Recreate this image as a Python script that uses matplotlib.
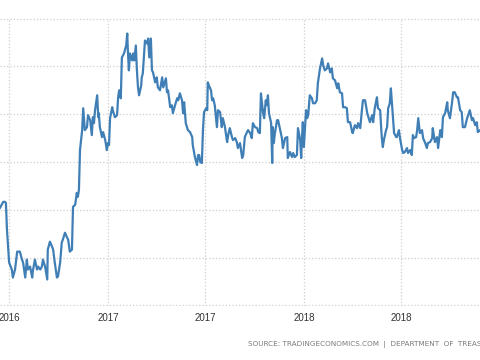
import numpy as np
import matplotlib
matplotlib.use('Agg')
import matplotlib.pyplot as plt
import matplotlib.dates as mdates
from matplotlib.ticker import MultipleLocator

START = np.datetime64('2016-06-14')
END = np.datetime64('2018-11-25')

# days since START
days = [0, 6, 9, 11, 13, 17, 22, 24, 28, 32, 37, 41, 43, 47, 50, 52, 56, 60, 61, 65,
        69, 71, 75, 78, 80, 84, 88, 89, 93, 97, 99, 102, 106, 108, 112, 115, 117, 121, 125, 127,
        130, 134, 136, 140, 143, 145, 147, 149, 153, 155, 158, 162, 164, 168, 171, 173, 175, 177, 181, 183,
        184, 186, 190, 192, 196, 199, 201, 203, 205, 209, 210, 214, 218, 220, 222, 225, 227, 229, 231, 235,
        237, 238, 240, 242, 246, 248, 250, 253, 255, 257, 259, 263, 264, 266, 270, 274, 276, 278, 281, 283,
        285, 289, 292, 294, 298, 302, 304, 309, 311, 313, 317, 320, 322, 326, 330, 332, 335, 339, 341, 343,
        346, 350, 354, 358, 359, 363, 367, 369, 371, 373, 376, 378, 380, 384, 386, 387, 389, 393, 395, 397,
        400, 404, 406, 410, 413, 415, 419, 423, 425, 428, 432, 434, 438, 441, 443, 447, 451, 453, 456, 460,
        462, 466, 469, 471, 475, 479, 481, 484, 486, 490, 492, 495, 497, 499, 501, 505, 507, 508, 510, 512,
        516, 518, 522, 525, 527, 531, 535, 536, 540, 544, 546, 549, 553, 555, 559, 561, 562, 564, 566, 570,
        572, 574, 577, 581, 583, 587, 590, 592, 596, 600, 602, 605, 609, 611, 615, 618, 620, 624, 628, 630,
        633, 637, 639, 643, 646, 648, 652, 656, 657, 661, 665, 667, 671, 674, 676, 680, 684, 685, 689, 693,
        695, 698, 702, 704, 708, 711, 713, 715, 719, 721, 723, 726, 728, 732, 734, 738, 739, 743, 745, 749,
        751, 754, 758, 760, 764, 767, 769, 771, 775, 777, 779, 782, 786, 788, 792, 795, 797, 801, 805, 806,
        810, 814, 816, 820, 823, 825, 829, 833, 834, 838, 842, 844, 847, 851, 853, 857, 860, 862, 866, 870,
        872, 875, 879, 881, 885, 888, 890, 894, 898]

values = [0.490, 0.520, 0.520, 0.515, 0.380, 0.215, 0.180, 0.140, 0.180, 0.270, 0.270, 0.230, 0.215, 0.140, 0.230, 0.180, 0.195, 0.140, 0.170, 0.230,
          0.180, 0.195, 0.180, 0.195, 0.230, 0.195, 0.130, 0.280, 0.320, 0.295, 0.280, 0.215, 0.140, 0.145, 0.215, 0.315, 0.330, 0.365, 0.340, 0.330,
          0.270, 0.280, 0.495, 0.505, 0.565, 0.545, 0.580, 0.780, 0.880, 0.990, 0.880, 0.895, 0.955, 0.930, 0.855, 0.945, 0.915, 0.980, 1.055, 0.945,
          0.965, 0.895, 0.845, 0.870, 0.830, 0.780, 0.815, 0.805, 0.940, 0.995, 0.980, 0.945, 0.955, 1.045, 1.080, 1.040, 1.245, 1.255, 1.265, 1.305,
          1.365, 1.290, 1.180, 1.265, 1.230, 1.265, 1.230, 1.305, 1.180, 1.095, 1.055, 1.105, 1.145, 1.165, 1.330, 1.315, 1.340, 1.245, 1.340, 1.180,
          1.170, 1.120, 1.145, 1.095, 1.080, 1.145, 1.095, 1.140, 1.070, 1.080, 0.995, 1.005, 0.965, 1.005, 1.040, 1.030, 1.065, 1.030, 0.965, 1.020,
          0.915, 0.880, 0.870, 0.845, 0.805, 0.745, 0.705, 0.755, 0.755, 0.720, 0.715, 0.880, 0.970, 0.990, 0.980, 1.120, 1.105, 1.080, 1.030, 1.040,
          1.005, 0.895, 0.980, 0.970, 0.895, 0.940, 0.895, 0.820, 0.855, 0.890, 0.845, 0.830, 0.840, 0.820, 0.790, 0.815, 0.740, 0.755, 0.845, 0.870,
          0.880, 0.865, 0.840, 0.915, 0.895, 0.890, 0.870, 0.865, 1.065, 0.965, 0.940, 1.030, 1.005, 1.055, 0.965, 0.915, 0.715, 0.895, 0.815, 0.865,
          0.930, 0.930, 0.880, 0.840, 0.790, 0.840, 0.845, 0.740, 0.770, 0.745, 0.765, 0.745, 0.755, 0.890, 0.830, 0.740, 0.820, 0.920, 0.795, 0.980,
          0.940, 0.955, 1.055, 1.040, 1.015, 1.015, 1.030, 1.115, 1.190, 1.240, 1.205, 1.180, 1.190, 1.215, 1.170, 1.190, 1.140, 1.130, 1.090, 1.115,
          1.070, 1.065, 0.995, 0.995, 0.990, 0.920, 0.920, 0.870, 0.865, 0.905, 0.890, 0.915, 0.890, 0.980, 1.030, 1.030, 0.965, 0.955, 0.920, 0.955,
          0.920, 0.990, 1.045, 0.990, 0.980, 0.845, 0.795, 0.830, 0.880, 0.895, 0.990, 1.015, 1.090, 0.945, 0.865, 0.845, 0.845, 0.880, 0.840, 0.780,
          0.765, 0.770, 0.790, 0.765, 0.780, 0.755, 0.855, 0.840, 0.845, 0.880, 0.940, 0.865, 0.880, 0.840, 0.815, 0.790, 0.815, 0.820, 0.840, 0.890,
          0.820, 0.845, 0.790, 0.880, 0.845, 0.945, 0.965, 1.020, 0.980, 0.940, 1.020, 1.070, 1.070, 1.045, 1.045, 0.980, 0.970, 0.895, 0.895, 0.940,
          0.955, 0.980, 0.930, 0.940, 0.905, 0.920, 0.870, 0.880, 0.865]

SOURCE = 'SOURCE: TRADINGECONOMICS.COM  |  DEPARTMENT  OF  TREASURY'

dates = START + np.array(days).astype('timedelta64[D]')

fig = plt.figure(figsize=(4.8, 3.6), dpi=100)
ax = fig.add_axes([0, 0.15, 1, 0.8])

ax.plot(dates, values, color='#3f7fb6', lw=1.6)

ax.set_xlim(START, END)
ax.set_ylim(-0.003, 1.443)
ax.yaxis.set_major_locator(MultipleLocator(0.24))
ax.xaxis.set_major_locator(mdates.MonthLocator(bymonth=[1, 7]))
ax.xaxis.set_major_formatter(mdates.DateFormatter('%Y'))

ax.grid(True, color='#cfcfcf', ls=':', lw=0.9)
for s in ax.spines.values():
    s.set_visible(False)
ax.tick_params(axis='both', length=0)
ax.tick_params(axis='x', pad=5, labelsize=7, labelcolor='#333333')
ax.set_yticklabels([])
for lab in ax.get_xticklabels():
    lab.set_fontfamily('Liberation Sans')

# the reference crops this line at the right edge
fig.text(248 / 480, 1 - 345 / 360, SOURCE, fontsize=5.2, color='#7a7a7a',
         va='center', ha='left')

fig.savefig('out.png', dpi=100)
